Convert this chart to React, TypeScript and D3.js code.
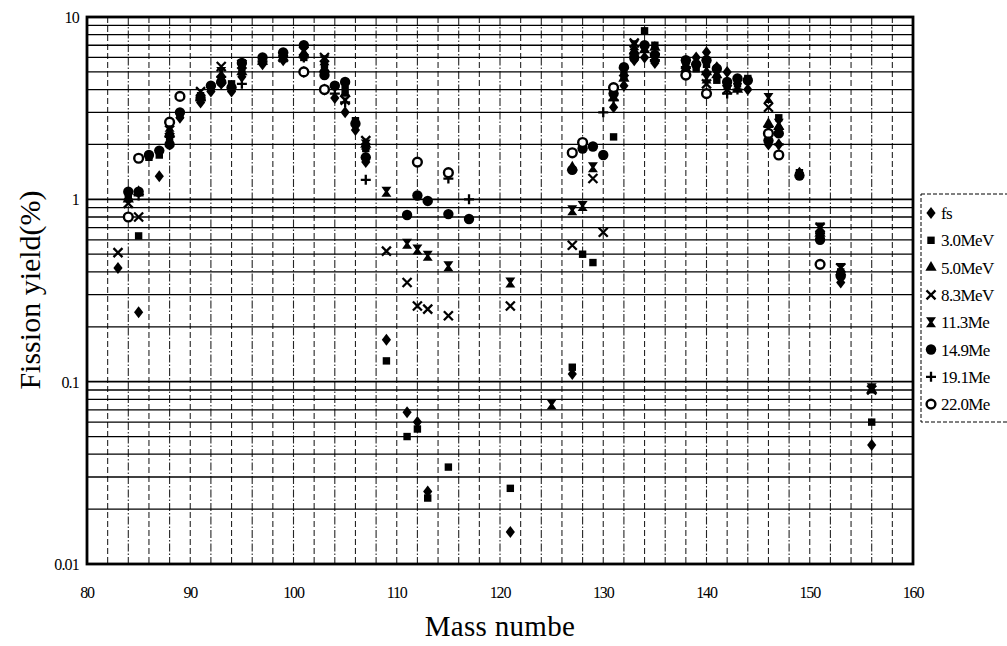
import React from "react";
import * as d3 from "d3";

type P = [number, number];

const seriesNames = ["fs", "3.0MeV", "5.0MeV", "8.3MeV", "11.3Me", "14.9Me", "19.1Me", "22.0Me"];

const fsData: P[] = [[83,0.42],[85,0.24],[87,1.34],[88,2.0],[89,2.8],[91,3.4],[92,3.9],[93,4.3],[94,3.9],[95,4.7],[97,5.5],[99,5.8],[101,5.0],[103,4.0],[104,3.6],[105,3.0],[106,2.4],[107,1.6],[109,0.17],[111,0.068],[112,0.06],[113,0.025],[121,0.015],[127,0.11],[131,3.2],[132,4.2],[133,5.8],[134,6.0],[135,5.6],[138,5.6],[139,6.0],[140,6.4],[141,5.3],[142,5.0],[143,4.3],[144,4.0],[146,2.0],[147,2.0],[149,1.4],[151,0.62],[153,0.35],[156,0.045]];
const mev30Data: P[] = [[84,1.05],[85,0.63],[86,1.7],[87,1.75],[88,2.1],[89,2.9],[91,3.7],[92,4.1],[93,4.6],[94,4.3],[95,5.2],[97,5.8],[99,6.2],[101,6.0],[103,5.5],[104,4.2],[105,4.0],[106,2.7],[107,1.9],[109,0.13],[111,0.05],[112,0.055],[113,0.023],[115,0.034],[121,0.026],[127,0.12],[128,0.5],[129,0.45],[131,2.2],[132,4.8],[133,6.2],[134,8.4],[135,7.0],[138,5.5],[139,5.2],[140,5.5],[141,4.5],[142,4.2],[143,4.3],[144,4.6],[146,2.2],[147,2.8],[149,1.4],[151,0.62],[153,0.4],[156,0.06]];
const mev50Data: P[] = [[84,1.0],[85,1.1],[88,2.3],[91,3.6],[93,4.5],[95,5.0],[97,5.7],[99,6.0],[101,6.3],[103,5.2],[105,3.8],[107,2.0],[127,1.5],[131,3.6],[132,4.6],[133,6.5],[134,6.6],[135,6.8],[138,5.2],[140,5.0],[141,4.8],[143,4.0],[146,2.6],[147,2.5],[151,0.65],[153,0.4],[156,0.09]];
const mev83Data: P[] = [[83,0.51],[84,0.95],[85,0.8],[88,2.4],[91,3.9],[93,5.35],[95,5.5],[99,6.0],[101,6.5],[103,6.0],[105,3.5],[107,2.1],[109,0.52],[111,0.35],[112,0.26],[113,0.25],[115,0.23],[121,0.26],[127,0.56],[129,1.3],[130,0.66],[132,5.0],[133,7.2],[135,6.0],[138,5.0],[140,4.3],[142,4.0],[146,3.2],[151,0.7],[153,0.42],[156,0.09]];
const mev113Data: P[] = [[88,2.5],[93,5.0],[103,5.8],[107,2.0],[109,1.1],[111,0.57],[112,0.53],[113,0.49],[115,0.43],[121,0.35],[125,0.075],[127,0.87],[128,0.92],[129,1.5],[133,7.0],[140,4.6],[146,3.6],[147,2.6],[151,0.7],[153,0.42],[156,0.092]];
const mev149Data: P[] = [[84,1.1],[85,1.1],[86,1.75],[87,1.85],[88,2.0],[89,3.0],[91,3.6],[92,4.2],[93,4.4],[94,4.1],[95,5.6],[97,6.0],[99,6.4],[101,7.0],[103,4.8],[104,4.2],[105,4.4],[106,2.6],[107,1.7],[111,0.82],[112,1.05],[113,0.98],[115,0.83],[117,0.78],[127,1.45],[128,1.9],[129,1.95],[130,1.75],[131,3.8],[132,5.3],[133,6.0],[134,7.0],[135,6.2],[138,5.8],[139,5.5],[140,5.8],[141,5.2],[142,4.4],[143,4.6],[144,4.5],[146,2.1],[147,2.3],[149,1.35],[151,0.6],[153,0.38]];
const mev191Data: P[] = [[85,1.05],[88,2.2],[91,3.5],[93,4.7],[95,4.3],[97,5.7],[99,6.1],[101,6.0],[103,5.0],[104,3.8],[105,3.4],[107,1.28],[115,1.3],[117,1.0],[130,3.0],[131,3.5],[133,6.3],[135,5.8],[138,5.3],[140,5.0],[142,3.8],[143,4.0],[146,2.5],[147,2.0],[151,0.65]];
const mev220Data: P[] = [[84,0.8],[85,1.68],[88,2.65],[89,3.67],[101,5.0],[103,4.0],[112,1.6],[115,1.4],[127,1.8],[128,2.05],[131,4.1],[138,4.8],[140,3.8],[146,2.3],[147,1.75],[151,0.44]];

const xTicks = [80, 90, 100, 110, 120, 130, 140, 150, 160];
const yTicks = [10, 1, 0.1, 0.01];
const yTickLabels = ["10", "1", "0.1", "0.01"];

const allData = [fsData, mev30Data, mev50Data, mev83Data, mev113Data, mev149Data, mev191Data, mev220Data];

const L = 87, R = 913, T = 17, B = 564;
const FONT = "'Liberation Serif', 'DejaVu Serif', serif";

function Marker({ kind, x, y }: { kind: number; x: number; y: number }) {
  const t = `translate(${x},${y})`;
  switch (kind) {
    case 0:
      return <path transform={t} d="M0,-6L4.6,0L0,6L-4.6,0Z" fill="#000" />;
    case 1:
      return <path transform={t} d={d3.symbol(d3.symbolSquare, 55)()!} fill="#000" />;
    case 2:
      return <path transform={t} d={d3.symbol(d3.symbolTriangle, 55)()!} fill="#000" />;
    case 3:
      return <path transform={t} d="M-4.5,-4.5L4.5,4.5M4.5,-4.5L-4.5,4.5" stroke="#000" strokeWidth={2.3} fill="none" />;
    case 4:
      return <path transform={t} d="M-5,-5L5,-5L1.5,0L5,5L-5,5L-1.5,0Z" fill="#000" />;
    case 5:
      return <circle cx={x} cy={y} r={5.2} fill="#000" />;
    case 6:
      return <path transform={t} d="M-5,0L5,0M0,-5L0,5" stroke="#000" strokeWidth={2.3} fill="none" />;
    default:
      return <circle cx={x} cy={y} r={4.4} fill="#fff" stroke="#000" strokeWidth={2.4} />;
  }
}

export default function App() {
  const x = d3.scaleLinear().domain([80, 160]).range([L, R]);
  const y = d3.scaleLog().domain([0.01, 10]).range([B, T]);

  const minor: number[] = [];
  [0.01, 0.1, 1].forEach((d) => {
    for (let k = 2; k <= 9; k++) minor.push(d * k);
  });
  const vgrid = d3.range(82, 160, 2);

  return (
    <svg width={1007} height={646} style={{ position: "absolute", left: 0, top: 0, background: "#fff" }}>
      <rect width={1007} height={646} fill="#fff" />
      {vgrid.map((m) => (
        <line key={"v" + m} x1={x(m)} x2={x(m)} y1={T} y2={B} stroke="#000" strokeWidth={1.1}
          strokeDasharray={m % 4 === 0 ? "8,2,1.5,2" : "6,3"} opacity={0.85} />
      ))}
      {minor.map((v, i) => (
        <line key={"h" + i} x1={L} x2={R} y1={y(v)} y2={y(v)} stroke="#000" strokeWidth={1.3} />
      ))}
      {[0.1, 1].map((v) => (
        <line key={"hm" + v} x1={L} x2={R} y1={y(v)} y2={y(v)} stroke="#000" strokeWidth={1.8} />
      ))}
      <rect x={L} y={T} width={R - L} height={B - T} fill="none" stroke="#000" strokeWidth={2.8} />

      {allData.map((data, si) =>
        data.map(([m, v], i) => <Marker key={si + "-" + i} kind={si} x={x(m)} y={y(v)} />)
      )}

      {yTicks.map((v, i) => (
        <text key={"yt" + v} x={L - 8} y={y(v) + 6} textAnchor="end" fontFamily={FONT} fontSize={16} letterSpacing={-0.8}>
          {yTickLabels[i]}
        </text>
      ))}
      {xTicks.map((m) => (
        <text key={"xt" + m} x={x(m)} y={598} textAnchor="middle" fontFamily={FONT} fontSize={16} letterSpacing={-1.2}>
          {m}
        </text>
      ))}
      <text x={500} y={636} textAnchor="middle" fontFamily={FONT} fontSize={29} letterSpacing={0.3}>Mass numbe</text>
      <text transform="translate(40,290) rotate(-90)" textAnchor="middle" fontFamily={FONT} fontSize={30}>Fission yield(%)</text>

      <rect x={921} y={194} width={100} height={228} fill="#fff" stroke="#000" strokeWidth={1} strokeDasharray="4,2" />
      {seriesNames.map((n, i) => {
        const ly = 213 + i * 27.3;
        return (
          <g key={"lg" + n}>
            <Marker kind={i} x={931} y={ly} />
            <text x={941} y={ly + 6} fontFamily={FONT} fontSize={17} letterSpacing={-0.6}>{n}</text>
          </g>
        );
      })}
    </svg>
  );
}
